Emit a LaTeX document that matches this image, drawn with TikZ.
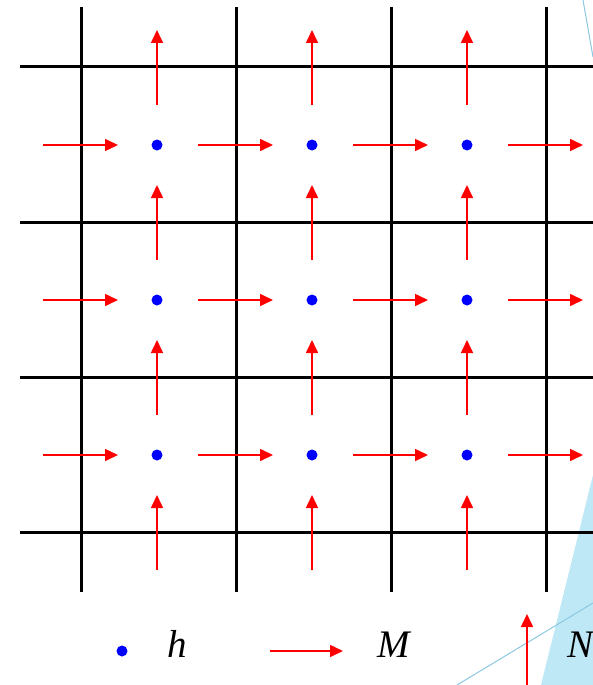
\documentclass[tikz,border=0pt]{standalone}
\usepackage{fontspec}
\setmainfont{Liberation Serif}
\usetikzlibrary{arrows.meta}
\definecolor{deco}{RGB}{190,232,245}
\definecolor{decoline}{RGB}{140,200,225}
\tikzset{
  gridline/.style={line width=3pt,black},
  flux/.style={red,line width=1.6pt,-{Triangle[length=13pt,width=12pt]}},
  cellpt/.style={circle,fill=blue,inner sep=0pt,minimum size=11pt},
  lab/.style={font=\fontsize{39}{42}\selectfont\itshape,anchor=base west,inner sep=0pt}
}
\begin{document}
\begin{tikzpicture}[x=1pt,y=-1pt]
\useasboundingbox (0,0) rectangle (593,685);
\begin{scope}
\clip (0,0) rectangle (593,685);
% decorations
\fill[deco] (593,475) -- (541,685) -- (593,685) -- cycle;
\draw[decoline,line width=1pt] (457,685) -- (593,603);
\draw[decoline,line width=1pt] (583,0) -- (593,57);
% grid
\foreach \x in {81,236,391,546} \draw[gridline] (\x,7) -- (\x,592);
\foreach \y in {67,222,377,532} \draw[gridline] (20,\y) -- (600,\y);
% horizontal arrows
\foreach \y in {145,300,455} {
  \foreach \x [count=\i] in {81,236,391,546} {
    \coordinate (hs\i\y) at (\x-38,\y);
    \coordinate (he\i\y) at (\x+37,\y);
    \draw[flux] (hs\i\y) -- (he\i\y);
  }
}
% vertical arrows
\foreach \x in {157,312,467} {
  \foreach \y [count=\j] in {67,222,377,532} {
    \coordinate (vs\j\x) at (\x,\y+38);
    \coordinate (ve\j\x) at (\x,\y-37);
    \draw[flux] (vs\j\x) -- (ve\j\x);
  }
}
% points
\foreach \x in {157,312,467} \foreach \y in {145,300,455} \node[cellpt] (p\x\y) at (\x,\y) {};
% legend
\node[cellpt] (lh) at (122,651) {};
\node[lab] (th) at (167,657) {h};
\coordinate (lms) at (270,651);
\coordinate (lme) at (343,651);
\draw[flux] (lms) -- (lme);
\node[lab] (tm) at (377,657) {M};
\coordinate (lns) at (527,686);
\coordinate (lne) at (527,614);
\draw[flux] (lns) -- (lne);
\node[lab] (tn) at (567,657) {N};
\end{scope}
\end{tikzpicture}
\end{document}
